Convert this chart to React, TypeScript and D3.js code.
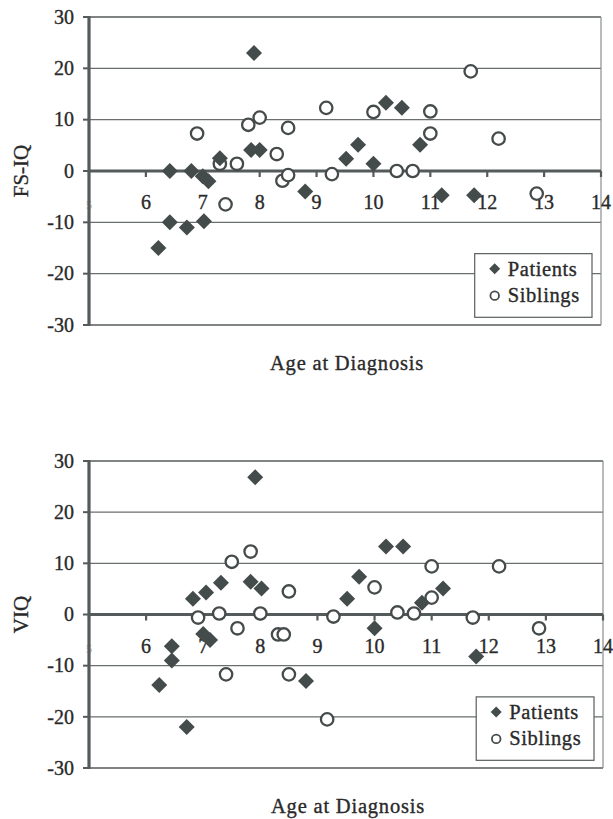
import React from "react";
import * as d3 from "d3";

// ---- Data ----
const xTicks = [5, 6, 7, 8, 9, 10, 11, 12, 13, 14];
const yTicks = [-30, -20, -10, 0, 10, 20, 30];
const legendLabels = ["Patients", "Siblings"];
const xTitle = "Age at Diagnosis";

// FS-IQ panel
const fsiqPatientAge = [7.9, 7.85, 8.0, 7.3, 6.42, 6.8, 7.0, 7.1, 8.8, 6.42, 6.72, 7.02, 6.22, 10.22, 10.5, 10.82, 9.73, 9.52, 10.0, 11.2, 11.77];
const fsiqPatientVal = [23, 4.1, 4.1, 2.5, 0, 0, -1, -2, -4, -10, -11, -9.8, -15, 13.3, 12.3, 5.1, 5.1, 2.4, 1.4, -4.7, -4.7];
const fsiqSiblingAge = [6.9, 7.8, 8.0, 8.5, 8.3, 7.3, 7.6, 8.4, 8.5, 7.4, 11.71, 9.17, 10.0, 11.0, 11.0, 12.2, 9.27, 10.41, 10.69, 12.87];
const fsiqSiblingVal = [7.3, 9, 10.4, 8.4, 3.3, 1.4, 1.4, -1.9, -0.8, -6.5, 19.4, 12.3, 11.5, 11.6, 7.3, 6.3, -0.6, 0, 0, -4.4];

// VIQ panel
const viqPatientAge = [7.91, 7.31, 7.83, 8.02, 6.82, 7.05, 7.0, 7.12, 6.45, 6.45, 6.23, 8.8, 6.71, 10.2, 10.5, 9.73, 9.52, 11.2, 10.83, 10.0, 11.78];
const viqPatientVal = [26.8, 6.2, 6.4, 5.1, 3.1, 4.3, -3.8, -5, -6.2, -9, -13.8, -13, -22, 13.3, 13.3, 7.4, 3.1, 5.1, 2.3, -2.7, -8.2];
const viqSiblingAge = [7.5, 7.83, 8.5, 6.91, 7.28, 8.0, 7.6, 8.31, 8.41, 7.4, 8.5, 11.0, 12.18, 10.0, 11.0, 9.28, 10.4, 10.69, 11.72, 12.88, 9.17];
const viqSiblingVal = [10.3, 12.3, 4.5, -0.6, 0.2, 0.2, -2.7, -3.9, -3.9, -11.7, -11.7, 9.4, 9.4, 5.3, 3.3, -0.4, 0.4, 0.2, -0.6, -2.7, -20.5];

const FONT = "'Liberation Serif', 'Times New Roman', serif";
const TEXT = "#2a2a2a";
const AXIS = "#555a5a";
const GRID = "#6a6e6e";
const DIAMOND = "#444b4b";
const CIRCLE = "#454a4a";

type PanelProps = {
  yTitle: string;
  px: [number, number];
  py: [number, number];
  pAge: number[];
  pVal: number[];
  sAge: number[];
  sVal: number[];
  titleY: number;
};

function diamond(cx: number, cy: number, r: number) {
  return `M${cx},${cy - r}L${cx + r},${cy}L${cx},${cy + r}L${cx - r},${cy}Z`;
}

const textStyle = { stroke: TEXT, strokeWidth: 0.35 };

function Panel({ yTitle, px, py, pAge, pVal, sAge, sVal, titleY }: PanelProps) {
  const x = d3.scaleLinear().domain([5, 14]).range(px);
  const y = d3.scaleLinear().domain([-30, 30]).range(py);
  const x0 = x(5);
  const x1 = x(14);
  const yZero = y(0);
  const lgTop = y(-16.1);
  const lgBot = y(-28.5);
  const lgLeft = x(11.78);
  const lgRight = x(14) - 9;
  return (
    <g>
      {/* gridlines */}
      {yTicks.filter((t) => t !== 0).map((t) => (
        <line key={"g" + t} x1={x0} x2={x1} y1={y(t)} y2={y(t)}
          stroke={t === 30 || t === -30 ? AXIS : GRID} strokeWidth={t === 30 || t === -30 ? 1.6 : 1.1} />
      ))}
      {/* right border */}
      <line x1={x1} x2={x1} y1={y(30)} y2={y(-30)} stroke="#8a8e8e" strokeWidth={1.2} />
      {/* legend */}
      <rect x={lgLeft} y={lgTop} width={lgRight - lgLeft} height={lgBot - lgTop} fill="white" stroke="#5a5e5e" strokeWidth={1.2} />
      <path d={diamond(lgLeft + 20, lgTop + 15, 5.5)} fill={DIAMOND} />
      <circle cx={lgLeft + 20} cy={lgTop + 42} r={4.3} fill="white" stroke={CIRCLE} strokeWidth={1.8} />
      {legendLabels.map((l, i) => (
        <text key={l} x={lgLeft + 33} y={lgTop + 22.5 + i * 26} fontFamily={FONT} fontSize={20.5}
          letterSpacing={0.6} fill={TEXT} style={textStyle}>{l}</text>
      ))}
      {/* x tick labels */}
      {xTicks.map((t) => (
        <text key={"xl" + t} x={x(t)} y={yZero + 38} textAnchor="middle" fontFamily={FONT}
          fontSize={t === 5 ? 13 : 20} fill={t === 5 ? "#b8b8b8" : TEXT}
          style={t === 5 ? undefined : textStyle}>{t}</text>
      ))}
      {/* zero line */}
      <line x1={x0} x2={x1} y1={yZero} y2={yZero} stroke={AXIS} strokeWidth={3.2} />
      {/* x ticks */}
      {xTicks.map((t) => (
        <line key={"xt" + t} x1={x(t)} x2={x(t)} y1={yZero} y2={yZero + 6} stroke={AXIS} strokeWidth={2.2} />
      ))}
      {/* left axis */}
      <line x1={x0} x2={x0} y1={y(30) - 1} y2={y(-30) + 1} stroke={AXIS} strokeWidth={3.2} />
      {yTicks.map((t) => (
        <line key={"yt" + t} x1={x0 - 6} x2={x0} y1={y(t)} y2={y(t)} stroke={AXIS} strokeWidth={2} />
      ))}
      {yTicks.map((t) => (
        <text key={"yl" + t} x={x0 - 15} y={y(t)} dy="0.34em" textAnchor="end" fontFamily={FONT}
          fontSize={20} fill={TEXT} style={textStyle}>{t}</text>
      ))}
      {/* y title */}
      <text transform={`translate(28,${yZero}) rotate(-90)`} textAnchor="middle" fontFamily={FONT}
        fontSize={21} fill={TEXT} style={textStyle}>{yTitle}</text>
      {/* x title */}
      <text x={(x0 + x1) / 2 + 2} y={titleY} textAnchor="middle" fontFamily={FONT} fontSize={20.5}
        letterSpacing={0.8} fill={TEXT} style={textStyle}>{xTitle}</text>
      {/* siblings */}
      {sAge.map((a, i) => (
        <circle key={"s" + i} cx={x(a)} cy={y(sVal[i])} r={6.2} fill="white" stroke={CIRCLE} strokeWidth={2.3} />
      ))}
      {/* patients */}
      {pAge.map((a, i) => (
        <path key={"p" + i} d={diamond(x(a), y(pVal[i]), 8)} fill={DIAMOND} />
      ))}
    </g>
  );
}

export default function App() {
  return (
    <svg width={613} height={819} style={{ position: "absolute", left: 0, top: 0, background: "white" }}>
      <rect width={613} height={819} fill="white" />
      <Panel yTitle="FS-IQ" px={[89, 601]} py={[325, 17]} pAge={fsiqPatientAge} pVal={fsiqPatientVal}
        sAge={fsiqSiblingAge} sVal={fsiqSiblingVal} titleY={370} />
      <Panel yTitle="VIQ" px={[89, 603]} py={[768, 461]} pAge={viqPatientAge} pVal={viqPatientVal}
        sAge={viqSiblingAge} sVal={viqSiblingVal} titleY={813} />
    </svg>
  );
}
